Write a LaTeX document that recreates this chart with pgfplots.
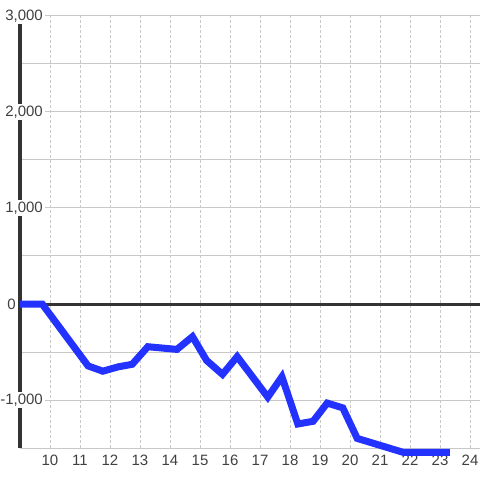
\documentclass[border=0pt]{standalone}
\usepackage{fontspec}
\setmainfont{Liberation Sans}
\usepackage{pgfplots}
\pgfplotsset{compat=1.18}
\definecolor{axisdark}{HTML}{333333}
\definecolor{gridgray}{HTML}{C8C8C8}
\definecolor{lineblue}{RGB}{35,50,255}
\definecolor{labelgray}{HTML}{404040}
\begin{document}
\fontsize{15bp}{17bp}\selectfont
\begin{tikzpicture}
\useasboundingbox (-20bp,-32bp) rectangle (460bp,448bp);
\begin{axis}[
  scale only axis,
  width=460bp, height=432bp,
  xmin=9, xmax=24.3333,
  ymin=-1500, ymax=3000,
  clip=false,
  axis lines*=left,
  x axis line style={draw=none},
  y axis line style={line width=3bp, draw=axisdark, -},
  xtick={10,...,24},
  ytick={-1000,1000,2000,3000},
  minor ytick={-1500,-500,500,1500,2500},
  extra y ticks={0},
  extra y tick style={
    grid=major,
    major grid style={line width=3bp, draw=axisdark, solid},
    yticklabel style={fill=none, xshift=-27bp},
  },
  major tick length=0pt, minor tick length=0pt,
  tick style={draw=none},
  xmajorgrids, ymajorgrids, yminorgrids,
  grid style={color=gridgray, line width=1bp},
  x grid style={dash pattern=on 3bp off 2bp},
  /pgf/number format/assume math mode=true,
  /pgf/number format/1000 sep={,},
  ticklabel style={font=\fontsize{15bp}{17bp}\selectfont, text=labelgray},
  yticklabel style={anchor=east, fill=white, inner xsep=2bp, inner ysep=1.5bp, xshift=25bp},
  xticklabel style={anchor=north, inner sep=0pt, yshift=-7bp},
]
\addplot[lineblue, line width=7bp, line join=miter, line cap=butt] coordinates {
(9.0,0) (9.74,0) (11.27,-645) (11.76,-700) (12.27,-655) (12.74,-628)
(13.26,-445) (14.23,-473) (14.75,-340) (15.22,-588) (15.75,-733)
(16.24,-548) (17.26,-970) (17.73,-758) (18.26,-1250) (18.77,-1222)
(19.24,-1032) (19.76,-1082) (20.24,-1400) (21.77,-1545) (23.33,-1545)
};
\end{axis}
\end{tikzpicture}
\end{document}
